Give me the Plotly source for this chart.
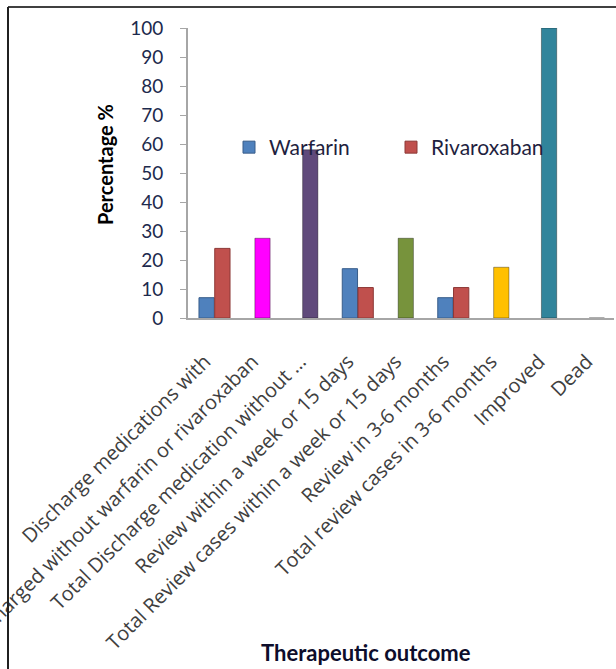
import plotly.graph_objects as go

categories = [
    "Discharge medications with",
    "Discharged without warfarin or rivaroxaban",
    "Total Discharge medication without \u2026",
    "Review within a week or 15 days",
    "Total Review cases within a week or 15 days",
    "Review in 3-6 months",
    "Total review cases in 3-6 months",
    "Improved",
    "Dead",
]
warfarin = [7, None, None, 17, None, 7, None, None, None]
rivaroxaban = [24, None, None, 10.5, None, 10.5, None, None, None]
totals = [None, 27.5, 58, None, 27.5, None, 17.5, 100, 0]
total_colors = ["#000000", "#FF00FF", "#604A7B", "#000000", "#77933C",
                "#000000", "#FFC000", "#31849B", "#BFBFBF"]
y_ticks = [0, 10, 20, 30, 40, 50, 60, 70, 80, 90, 100]

W, H = 616, 669
L, R, T, B = 188, 2, 28, 351
pw, ph = W - L - R, H - T - B

def px_x(px):
    return (px - L) / pw

def px_y(py):
    return (H - B - py) / ph

xs = list(range(len(categories)))
fig = go.Figure()
fig.add_trace(go.Bar(
    x=xs, y=warfarin, name="Warfarin", width=0.32, offset=-0.33,
    marker=dict(color="#4F81BD", line=dict(color="#385D8A", width=1)),
))
fig.add_trace(go.Bar(
    x=xs, y=rivaroxaban, name="Rivaroxaban", width=0.32, offset=0.0,
    marker=dict(color="#C0504D", line=dict(color="#8C3836", width=1)),
))
fig.add_trace(go.Bar(
    x=xs, y=totals, name="Total", width=0.32, offset=-0.16, showlegend=False,
    marker=dict(color=total_colors, line=dict(color="rgba(0,0,0,0.35)", width=1)),
))

fig.update_layout(
    width=W, height=H,
    margin=dict(l=L, r=R, t=T, b=B, autoexpand=False),
    paper_bgcolor="white", plot_bgcolor="white",
    barmode="overlay",
    font=dict(family="Lato, Open Sans, sans-serif", color="#404040"),
    showlegend=True,
    legend=dict(
        orientation="h", x=px_x(229), y=px_y(127), xanchor="left", yanchor="top",
        bgcolor="rgba(0,0,0,0)", font=dict(size=21, color="#1F1F3F"),
        entrywidth=117, entrywidthmode="pixels", itemwidth=30,
    ),
    xaxis=dict(
        range=[-0.56, 8.36], tickmode="array", tickvals=xs, ticktext=categories,
        tickangle=-45, showgrid=False, zeroline=False, showline=True,
        linecolor="#A6A6A6", linewidth=2, ticks="", automargin=False,
        tickfont=dict(size=20, color="#404040", family="Open Sans, sans-serif"),
        ticklabelstandoff=22, ticklabelshift=-10, ticklabeloverflow="allow",
    ),
    yaxis=dict(
        range=[0, 100], tickmode="array", tickvals=y_ticks, showgrid=False,
        zeroline=False, showline=True, linecolor="#A6A6A6", linewidth=2,
        ticks="outside", ticklen=6, tickcolor="#A6A6A6", automargin=False,
        tickfont=dict(size=19, color="#1D2A4D", family="Lato, sans-serif"),
        ticklabelstandoff=13,
    ),
    annotations=[
        dict(text="<b>Percentage %</b>", textangle=-90, x=px_x(105), y=px_y(165),
             xanchor="center", yanchor="middle",
             xref="paper", yref="paper", showarrow=False,
             font=dict(size=20, color="#000000", family="Lato, sans-serif")),
        dict(text="<b>Therapeutic outcome</b>", x=px_x(366), y=px_y(653),
             xanchor="center", yanchor="middle",
             xref="paper", yref="paper", showarrow=False,
             font=dict(size=22, color="#0D0D2B", family="Lato, sans-serif")),
    ],
    shapes=[
        dict(type="line", xref="paper", yref="paper", x0=px_x(8), x1=px_x(616),
             y0=px_y(7), y1=px_y(7), line=dict(color="#404040", width=2)),
        dict(type="line", xref="paper", yref="paper", x0=px_x(8), x1=px_x(8),
             y0=px_y(7), y1=px_y(669), line=dict(color="#202020", width=2)),
    ],
)

fig.write_html("out.html")
